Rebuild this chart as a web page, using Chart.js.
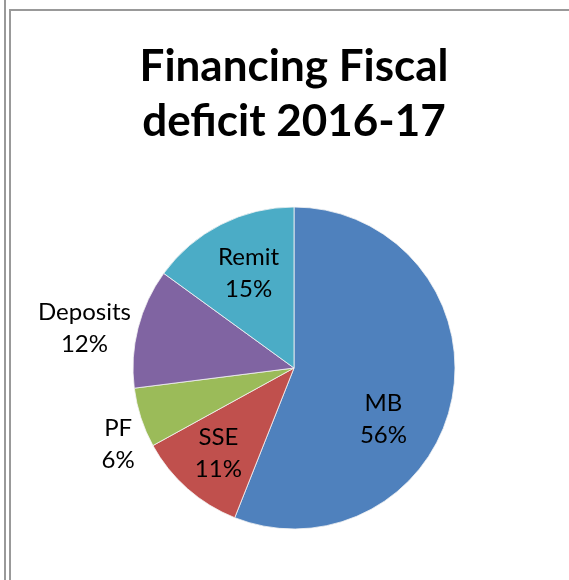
<!DOCTYPE html>
<html>
<head>
<meta charset="utf-8">
<script src="https://cdn.jsdelivr.net/npm/chart.js@4/dist/chart.umd.min.js"></script>
<style>
  html, body { margin: 0; padding: 0; background: #fff; overflow: hidden; }
  .wrap { position: relative; width: 569px; height: 580px; }
  .rule { position: absolute; left: 4px; top: 0; width: 2px; height: 580px; background: #999; }
  .frame { position: absolute; left: 9px; top: 9px; width: 600px; height: 600px; border-left: 2px solid #999; border-top: 2px solid #999; }
  #chart { position: absolute; left: 0; top: 0; }
</style>
</head>
<body>
<div class="wrap">
  <div class="rule"></div>
  <div class="frame"></div>
  <canvas id="chart" width="569" height="580"></canvas>
</div>
<script>
const labels = ['MB', 'SSE', 'PF', 'Deposits', 'Remit']
const shares = [56, 11, 6, 12, 15]
const colors = ['#4F81BD', '#C0504D', '#9BBB59', '#8064A2', '#4BACC6']

// where each slice label sits: [fraction of radius, turn in degrees from the slice middle]
const labelPlacement = [[0.64, 19], [0.71, 0], [1.19, -5.4], [1.325, -3.6], [0.65, 1.3]]

const sliceLabels = {
  id: 'sliceLabels',
  afterDatasetsDraw(chart) {
    const { ctx } = chart
    const meta = chart.getDatasetMeta(0)
    const total = shares.reduce((a, b) => a + b, 0)
    ctx.save()
    ctx.font = '24px Lato'
    ctx.fillStyle = '#000'
    ctx.textAlign = 'center'
    ctx.textBaseline = 'middle'
    meta.data.forEach((arc, i) => {
      const p = arc.getProps(['x', 'y', 'startAngle', 'endAngle', 'outerRadius'], true)
      const [k, turn] = labelPlacement[i]
      const mid = (p.startAngle + p.endAngle) / 2 + (turn * Math.PI) / 180
      const cx = p.x + Math.cos(mid) * p.outerRadius * k
      const cy = p.y + Math.sin(mid) * p.outerRadius * k
      const pct = Math.round((shares[i] / total) * 100) + '%'
      ctx.fillText(labels[i], cx, cy - 16)
      ctx.fillText(pct, cx, cy + 16)
    })
    ctx.restore()
  },
}

new Chart(document.getElementById('chart'), {
  type: 'pie',
  data: {
    labels,
    datasets: [
      {
        data: shares,
        backgroundColor: colors,
        borderColor: '#f4f4f4',
        borderWidth: 0.8,
        radius: 161,
      },
    ],
  },
  options: {
    responsive: false,
    animation: false,
    layout: { padding: { left: 19, right: 0, top: 0, bottom: 3.5 } },
    plugins: {
      legend: { display: false },
      tooltip: { enabled: false },
      title: {
        display: true,
        text: ['Financing Fiscal', 'deficit 2016-17'],
        color: '#000',
        font: { family: 'Lato', size: 44, weight: 'bold', lineHeight: 1.25 },
        padding: { top: 39.5, bottom: 10 },
      },
    },
  },
  plugins: [sliceLabels],
})
</script>
</body>
</html>
